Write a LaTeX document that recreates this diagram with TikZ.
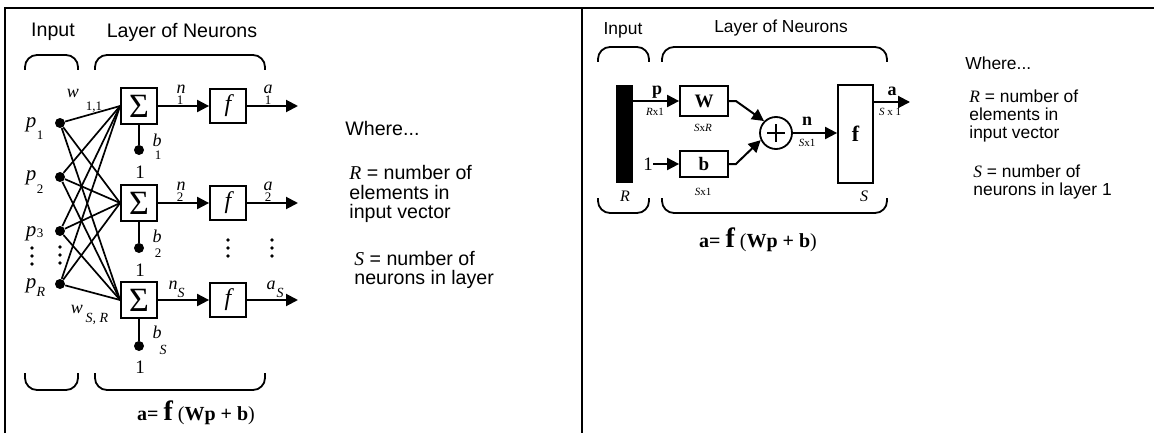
\documentclass[tikz,border=0pt]{standalone}
\usepackage{fontspec}
\setmainfont{Liberation Sans}
\newfontfamily\tms{Liberation Serif}
\usepackage{tikz}
\usetikzlibrary{arrows.meta,positioning}
\newcommand{\rv}[1]{{\tms\itshape #1}}

\begin{document}
\begin{tikzpicture}[x=0.5pt,y=-0.5pt,
    conn/.style={line width=1pt,-{Triangle[length=6pt,width=6pt]}},
    wline/.style={line width=0.85pt},
    blk/.style={draw,line width=0.9pt,inner sep=0pt},
    sumbox/.style={blk,minimum size=18pt,font=\tms\fontsize{17}{17}\selectfont},
    actbox/.style={blk,minimum width=18pt,minimum height=17pt,font=\tms\itshape\fontsize{12}{12}\selectfont},
    dotn/.style={circle,fill,inner sep=0pt,minimum size=5pt},
    brace/.style={line width=0.9pt,rounded corners=6pt},
    txtL/.style={font=\fontsize{9.8}{9.6}\selectfont,align=left,inner sep=0pt},
    txtR/.style={font=\fontsize{8.7}{9}\selectfont,align=left,inner sep=0pt},
    plab/.style={font=\tms\itshape\fontsize{10.5}{11}\selectfont,inner sep=0pt},
    mlab/.style={font=\tms\itshape\fontsize{9}{10}\selectfont,inner sep=0pt},
    slab/.style={font=\tms\fontsize{6.5}{6.5}\selectfont,inner sep=0pt},
    islab/.style={font=\tms\itshape\fontsize{7}{7}\selectfont,inner sep=0pt},
    numlab/.style={font=\tms\fontsize{9.5}{10}\selectfont,inner sep=0pt},
    blab/.style={font=\tms\bfseries\fontsize{9}{10}\selectfont,inner sep=0pt},
    dimlab/.style={font=\tms\fontsize{5.5}{6}\selectfont,inner sep=0pt},
    eqn/.style={font=\tms\bfseries\fontsize{10}{11}\selectfont,inner sep=0pt}]
  \useasboundingbox (0,0) rectangle (1154,433);
  \draw[line width=1.3pt] (5,433) -- (5,8) -- (1154,8);
  \draw[line width=1.3pt] (582,8) -- (582,433);

  % single layer, full drawing
  \node[txtL] (inL) at (53,32) {Input};
  \node[txtL] (layL) at (182,32) {Layer of Neurons};
  \draw[brace] (25,70) -- (25,55) -- (78,55) -- (78,70);
  \draw[brace] (95,70) -- (95,55) -- (265,55) -- (265,70);
  \draw[brace] (25,373) -- (25,390) -- (78,390) -- (78,373);
  \draw[brace] (95,373) -- (95,390) -- (265,390) -- (265,373);

  \node[dotn] (p1) at (60,123) {};
  \node[dotn] (p2) at (60,177) {};
  \node[dotn] (p3) at (60,231) {};
  \node[dotn] (pR) at (60,284) {};
  \node[sumbox] (s1) at (139,106) {Σ};
  \node[sumbox] (s2) at (139,203) {Σ};
  \node[sumbox] (sS) at (139,300) {Σ};
  \node[actbox] (f1) at (228,106) {f};
  \node[actbox] (f2) at (228,203) {f};
  \node[actbox] (fS) at (228,300) {f};
  \coordinate (o1) at (298,106);
  \coordinate (o2) at (298,203);
  \coordinate (oS) at (298,300);

  \foreach \i in {p1,p2,p3,pR}
    \foreach \j in {s1,s2,sS}
      \draw[wline] (\i) -- (\j.west);

  \draw[conn] (s1) -- (f1); \draw[conn] (f1) -- (o1);
  \draw[conn] (s2) -- (f2); \draw[conn] (f2) -- (o2);
  \draw[conn] (sS) -- (fS); \draw[conn] (fS) -- (oS);

  \node[dotn] (bd1) at (139,150) {};
  \node[dotn] (bd2) at (139,248) {};
  \node[dotn] (bdS) at (139,346) {};
  \draw[line width=1pt] (s1) -- (bd1);
  \draw[line width=1pt] (s2) -- (bd2);
  \draw[line width=1pt] (sS) -- (bdS);
  \node[numlab] (one1) at (140,172) {1};
  \node[numlab] (one2) at (140,270) {1};
  \node[numlab] (oneS) at (140,367) {1};

  \foreach \x/\y in {32/256,60/255,228/248,272/248}
    \foreach \d in {-8,0,8}
      \fill (\x,\y+\d) circle (0.9pt);

  \node[plab] (lp1) at (31,125) {p}; \node[slab] (lp1s) at (40,135) {1};
  \node[plab] (lp2) at (31,178) {p}; \node[slab] (lp2s) at (40,189) {2};
  \node[plab] (lp3) at (31,234) {p}; \node[slab] (lp3s) at (40,233) {3};
  \node[plab] (lpR) at (31,286) {p}; \node[islab] (lpRs) at (41,292) {R};

  \node[mlab] (w11) at (73,93) {w}; \node[slab] (w11s) at (94,107) {1,1};
  \node[mlab] (wSR) at (77,309) {w}; \node[islab] (wSRs) at (97,319) {S, R};
  \node[mlab] (lb1) at (157,140) {b}; \node[slab] (lb1s) at (158,155) {1};
  \node[mlab] (lb2) at (157,236) {b}; \node[slab] (lb2s) at (158,253) {2};
  \node[mlab] (lbS) at (157,332) {b}; \node[islab] (lbSs) at (163,350) {S};
  \node[mlab] (ln1) at (181,89) {n}; \node[slab] (ln1s) at (180,100) {1};
  \node[mlab] (la1) at (268,89) {a}; \node[slab] (la1s) at (268,100) {1};
  \node[mlab] (ln2) at (181,186) {n}; \node[slab] (ln2s) at (180,197) {2};
  \node[mlab] (la2) at (268,186) {a}; \node[slab] (la2s) at (268,197) {2};
  \node[mlab] (lnS) at (173,285) {n}; \node[islab] (lnSs) at (181,293) {S};
  \node[mlab] (laS) at (271,285) {a}; \node[islab] (laSs) at (280,293) {S};

  \node[eqn] (eqL) at (196,413) {a= {\fontsize{14}{14}\selectfont f} {\mdseries(}Wp + b{\mdseries)}};

  \node[txtL,anchor=west] (whereL) at (345,128) {Where...};
  \node[txtL,anchor=west] (defRL) at (349,194) {\rv{R} = number of\\elements in\\input vector};
  \node[txtL,anchor=west] (defSL) at (354,270) {\rv{S} = number of\\neurons in layer};

  % same layer, abbreviated
  \node[txtR] (inR) at (623,30) {Input};
  \node[txtR] (layR) at (781,28) {Layer of Neurons};
  \draw[brace] (598,62) -- (598,47) -- (649,47) -- (649,62);
  \draw[brace] (662,62) -- (662,47) -- (887,47) -- (887,62);
  \draw[brace] (598,198) -- (598,213) -- (649,213) -- (649,198);
  \draw[brace] (662,198) -- (662,213) -- (887,213) -- (887,198);

  \node[fill,inner sep=0pt,minimum width=8.5pt,minimum height=49pt] (bar) at (624.5,134) {};
  \node[blk,minimum width=24pt,minimum height=15pt,font=\tms\bfseries\fontsize{9.5}{10}\selectfont] (Wb) at (704,101) {W};
  \node[blk,minimum width=24pt,minimum height=13pt,font=\tms\bfseries\fontsize{9.5}{10}\selectfont] (bb) at (704,164) {b};
  \node[draw,circle,line width=0.9pt,minimum size=16pt,inner sep=0pt] (sum) at (776,133) {};
  \draw[line width=1pt] (767,133) -- (785,133) (776,124) -- (776,142);
  \node[blk,minimum width=17.5pt,minimum height=49pt,font=\tms\bfseries\fontsize{11}{11}\selectfont] (fb) at (855.5,134) {f};
  \node[numlab] (oneb) at (648,164) {1};
  \coordinate (aR) at (910,102);

  \draw[conn] (bar.east |- Wb.west) -- (Wb.west);
  \draw[conn] (oneb) -- (bb);
  \draw[conn] (Wb.east) -- ++(7,0) -- (sum.135);
  \draw[conn] (bb.east) -- ++(7,0) -- (sum.205);
  \draw[conn] (sum) -- (fb.west |- sum);
  \draw[conn] (fb.east |- aR) -- (aR);

  \node[blab] (lp) at (657,92) {p}; \node[dimlab] (lpd) at (655,112) {\textit{R}x1};
  \node[dimlab] (lWd) at (703,128) {\textit{S}x\textit{R}};
  \node[dimlab] (lbd) at (703,192) {\textit{S}x1};
  \node[blab] (ln) at (807,121) {n}; \node[dimlab] (lnd) at (807,143) {\textit{S}x1};
  \node[blab] (la) at (892,91) {a}; \node[dimlab] (lad) at (890,112) {\textit{S} x 1};
  \node[mlab,font=\tms\itshape\fontsize{8}{8}\selectfont] (lR) at (625,196) {R};
  \node[mlab,font=\tms\itshape\fontsize{8}{8}\selectfont] (lS) at (864,196) {S};

  \node[eqn] (eqR) at (758,240) {a= {\fontsize{14}{14}\selectfont f} {\mdseries(}Wp + b{\mdseries)}};

  \node[txtR,anchor=west] (whereR) at (965,63) {Where...};
  \node[txtR,anchor=west] (defRR) at (969,116) {\rv{R} = number of\\elements in\\input vector};
  \node[txtR,anchor=west] (defSR) at (973,182) {\rv{S} = number of\\neurons in layer 1};
\end{tikzpicture}
\end{document}
